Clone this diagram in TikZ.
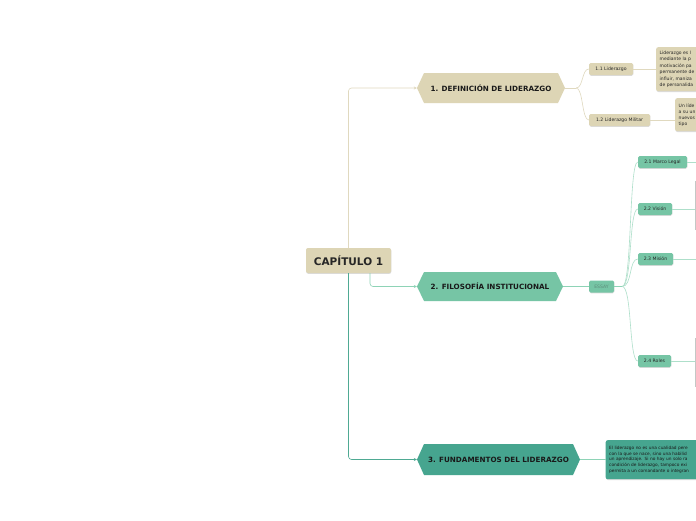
\documentclass[tikz,border=0pt]{standalone}
\usepackage{fontspec}
\setmainfont{DejaVu Sans}
\usetikzlibrary{arrows.meta,shadows,calc}
\definecolor{beige}{HTML}{DDD5B5}
\definecolor{beigeln}{HTML}{E0D9BF}
\definecolor{mint}{HTML}{76C5A5}
\definecolor{mintln}{HTML}{8ED3B6}
\definecolor{mintlt}{HTML}{AEDFCA}
\definecolor{tealc}{HTML}{46A58F}
\definecolor{tealln}{HTML}{4FAA93}
\definecolor{essaytx}{HTML}{5E8F7C}
\definecolor{edgegray}{HTML}{C4C8C6}
\begin{document}
\begin{tikzpicture}[x=1pt,y=-1pt,
 hexa/.style={minimum height=30pt, inner sep=0pt, font=\fontsize{7.2}{8}\selectfont\bfseries, text=black!90,
   path picture={\fill[#1] (path picture bounding box.west) -- ([xshift=7pt]path picture bounding box.north west) -- ([xshift=-7pt]path picture bounding box.north east) -- (path picture bounding box.east) -- ([xshift=-7pt]path picture bounding box.south east) -- ([xshift=7pt]path picture bounding box.south west) -- cycle;}},
 shad/.style={drop shadow={shadow xshift=0.3pt, shadow yshift=-0.8pt, opacity=0.28}},
 lbl/.style={fill=#1, rounded corners=1.5pt, inner sep=0pt, minimum height=12pt, font=\fontsize{4.6}{5}\selectfont, text=black!85, shad},
 para/.style={fill=#1, rounded corners=2pt, inner xsep=3.5pt, inner ysep=0pt, anchor=north west, align=left, text=black!85, shad},
 edgebox/.style={draw=edgegray, fill=white, line width=0.6pt, anchor=north west, minimum width=40pt, inner sep=0pt},
 tip/.style={-{Stealth[length=3pt,width=3pt]}},
 ln/.style={line width=0.6pt},
]
\useasboundingbox (0,0) rectangle (696,520);
\clip (0,0) rectangle (696,520);
\fill[white] (0,0) rectangle (696,520);

% central node
\node[fill=beige, rounded corners=2pt, minimum width=85pt, minimum height=25pt, inner sep=0pt,
      font=\fontsize{10.5}{12}\selectfont\bfseries, text=black!85, shad] (cap) at (348.5,260.5) {CAPÍTULO 1};

% main topics
\node[hexa=beige, minimum width=148pt] (h1) at (491,88) {1. DEFINICIÓN DE LIDERAZGO};
\node[hexa=mint, minimum width=146pt, minimum height=29pt] (h2) at (490,286.5) {2. FILOSOFÍA INSTITUCIONAL};
\node[hexa=tealc, minimum width=163pt, minimum height=31pt] (h3) at (498.5,459.5) {3. FUNDAMENTOS DEL LIDERAZGO};

% connectors from centre
\draw[ln, beigeln, rounded corners=3pt, tip] (cap.north) |- (h1.west);
\draw[ln, mintln, rounded corners=3pt, tip] ([xshift=21.5pt]cap.south) |- (h2.west);
\draw[ln, tealln, rounded corners=3pt, tip] (cap.south) |- (h3.west);

% branch 1
\node[lbl=beige, minimum width=44pt] (l11) at (611,69) {1.1 Liderazgo};
\node[lbl=beige, minimum width=61pt] (l12) at (619.5,120) {1.2 Liderazgo Militar};
\node[para=beige, text width=110pt, minimum height=44pt, font=\fontsize{4.5}{6.5}\selectfont] (p11) at (656,47)
  {Liderazgo es l\\mediante la p\\motivación pa\\permanente de\\influir, maniza\\de personalida};
\node[para=beige, text width=110pt, minimum height=33pt, font=\fontsize{4.5}{6}\selectfont] (p12) at (675,98)
  {Un líde\\a su un\\nuevos\\tipo};
\draw[ln, beigeln] (h1.east) -- ++(11,0) coordinate (f1);
\draw[ln, beigeln] (f1) .. controls +(7,0) and +(-7,0) .. (l11.west);
\draw[ln, beigeln] (f1) .. controls +(7,0) and +(-7,0) .. (l12.west);
\draw[ln, beigeln] (l11.east) -- (l11.east -| p11.west);
\draw[ln, beigeln] (l12.east) -- (l12.east -| p12.west);

% branch 2
\node[lbl=mint, minimum width=25pt, text=essaytx] (essay) at (601.5,286.5) {ESSAY};
\node[lbl=mint, minimum width=49pt] (l21) at (662.5,162) {2.1 Marco Legal};
\node[lbl=mint, minimum width=34pt] (l22) at (655,209) {2.2 Visión};
\node[lbl=mint, minimum width=35pt] (l23) at (655.5,259) {2.3 Misión};
\node[lbl=mint, minimum width=33pt] (l24) at (654.5,361) {2.4 Roles};
\node[edgebox, minimum height=48pt] (r22) at (694.5,181) {};
\node[edgebox, minimum height=48pt] (r24) at (694.5,338) {};
\coordinate (e21) at (700,162);
\coordinate (e23) at (700,259);
\draw[ln, mintln] (h2.east) -- (essay.west);
\draw[ln, mintln] (essay.east) -- ++(8,0) coordinate (fan);
\foreach \t in {l21,l22,l23,l24}
  \draw[ln, mintlt] (fan) .. controls +(10,0) and +(-9,0) .. (\t.west);
\draw[ln, mintlt] (l21.east) -- (e21);
\draw[ln, mintlt] (l22.east) -- (l22.east -| r22.west);
\draw[ln, mintlt] (l23.east) -- (e23);
\draw[ln, mintlt] (l24.east) -- (l24.east -| r24.west);

% branch 3
\node[para=tealc, text width=140pt, minimum height=39pt, font=\fontsize{4.3}{5.8}\selectfont, text=black!90] (p3) at (605.5,440)
  {El liderazgo no es una cualidad pere\\con la que se nace, sino una habilid\\un aprendizaje. Si no hay un solo ra\\condición de liderazgo, tampoco exi\\permita a un comandante o integran};
\draw[ln, mintln] (h3.east) -- (h3.east -| p3.west);
\end{tikzpicture}
\end{document}
